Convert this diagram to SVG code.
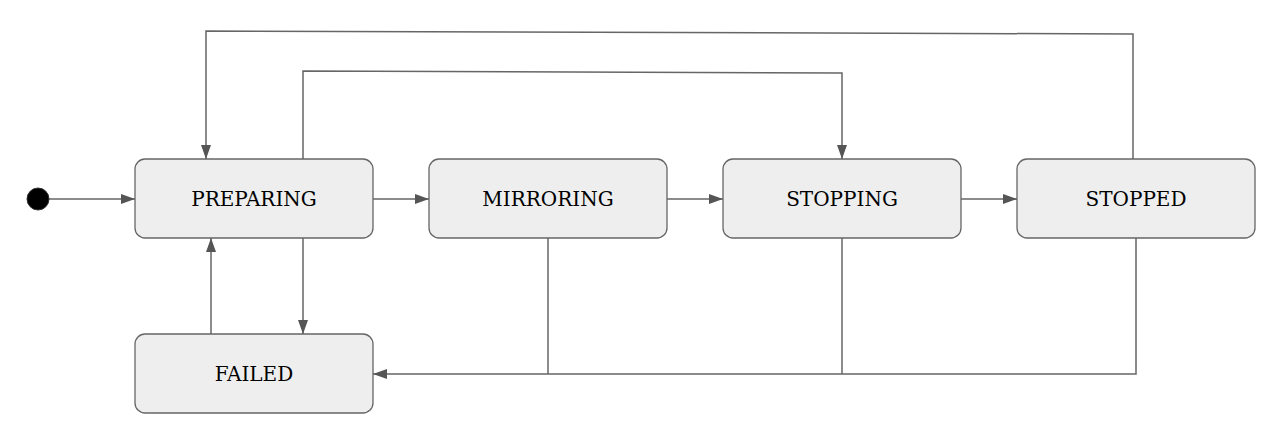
<svg xmlns="http://www.w3.org/2000/svg" width="1281" height="434" viewBox="0 0 1281 434">
<style>
.node rect{fill:#eeeeee;stroke:#666666;stroke-width:1.3}
.node text{font-family:"DejaVu Serif","Liberation Serif",serif;font-size:20px;fill:#000;text-anchor:middle;dominant-baseline:central}
.edge{fill:none;stroke:#666666;stroke-width:1.5}
</style>
<defs>
<marker id="ah" viewBox="0 0 14 10" refX="14" refY="5" markerWidth="14" markerHeight="10" markerUnits="userSpaceOnUse" orient="auto">
<path d="M0,0 L14,5 L0,10 Z" fill="#555555"/>
</marker>
</defs>
<rect width="1281" height="434" fill="#ffffff"/>
<g id="connectors">
<path class="edge" d="M49,199 H135" marker-end="url(#ah)"/>
<path class="edge" d="M373,199 H429" marker-end="url(#ah)"/>
<path class="edge" d="M667,199 H723" marker-end="url(#ah)"/>
<path class="edge" d="M961,199 H1017" marker-end="url(#ah)"/>
<path class="edge" d="M1133,159 V34 L206,31 V159" marker-end="url(#ah)"/>
<path class="edge" d="M303,159 V71 L842,73 V159" marker-end="url(#ah)"/>
<path class="edge" d="M303,238 V334" marker-end="url(#ah)"/>
<path class="edge" d="M211,334 V238" marker-end="url(#ah)"/>
<path class="edge" d="M548,238 V374"/>
<path class="edge" d="M842,238 V374"/>
<path class="edge" d="M1136,238 V374 H373" marker-end="url(#ah)"/>
</g>
<g id="initial">
<circle cx="38" cy="199" r="11" fill="#000000" stroke="#333333" stroke-width="1"/>
</g>
<g id="preparing" class="node">
<rect x="135" y="159" width="238" height="79" rx="10"/>
<text x="254" y="199">PREPARING</text>
</g>
<g id="mirroring" class="node">
<rect x="429" y="159" width="238" height="79" rx="10"/>
<text x="548" y="199">MIRRORING</text>
</g>
<g id="stopping" class="node">
<rect x="723" y="159" width="238" height="79" rx="10"/>
<text x="842" y="199">STOPPING</text>
</g>
<g id="stopped" class="node">
<rect x="1017" y="159" width="238" height="79" rx="10"/>
<text x="1136" y="199">STOPPED</text>
</g>
<g id="failed" class="node">
<rect x="135" y="334" width="238" height="79" rx="10"/>
<text x="254" y="374">FAILED</text>
</g>
</svg>
